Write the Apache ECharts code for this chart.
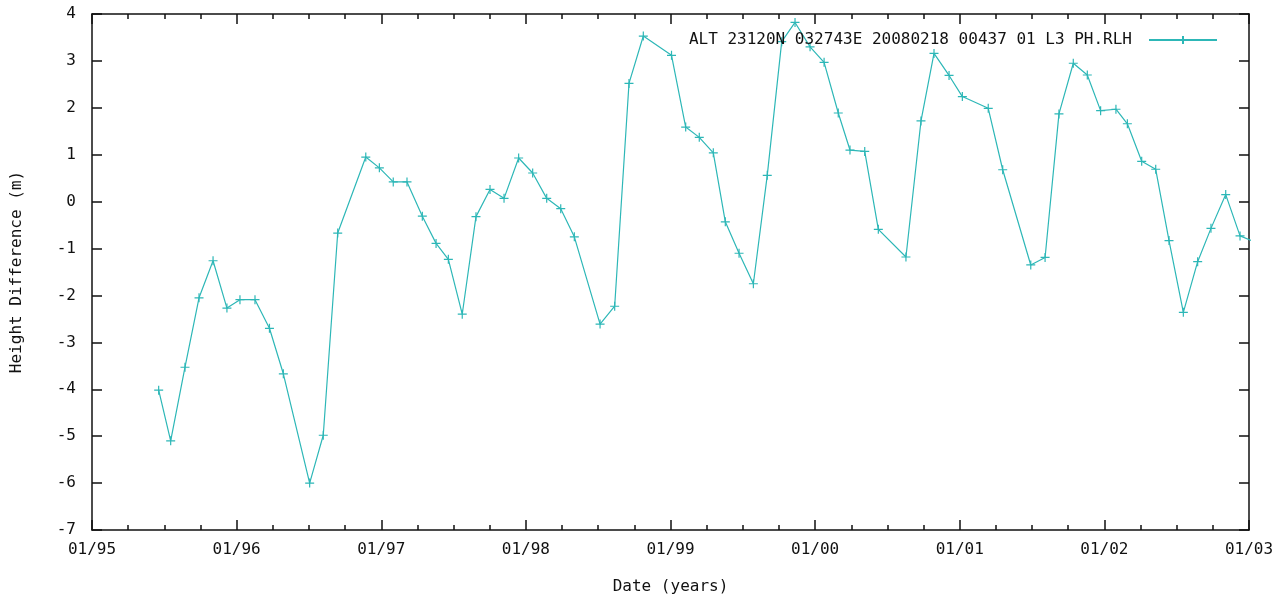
<!DOCTYPE html>
<html>
<head>
<meta charset="utf-8">
<script src="https://cdn.jsdelivr.net/npm/echarts@6/dist/echarts.min.js"></script>
<style>
  html, body { margin: 0; padding: 0; background: #fff; }
  #chart { width: 1285px; height: 600px; }
</style>
</head>
<body>
<div id="chart"></div>
<script>
// decimal years of each pass (35-day repeat)
const years = [
  1995.461, 1995.544, 1995.643, 1995.740, 1995.837, 1995.933, 1996.023, 1996.127,
  1996.227, 1996.323, 1996.505, 1996.599, 1996.699, 1996.893, 1996.987, 1997.083,
  1997.178, 1997.284, 1997.379, 1997.464, 1997.560, 1997.655, 1997.752, 1997.849,
  1997.950, 1998.047, 1998.144, 1998.241, 1998.335, 1998.513, 1998.614, 1998.713,
  1998.812, 1999.007, 1999.105, 1999.199, 1999.296, 1999.379, 1999.474, 1999.573,
  1999.669, 1999.769, 1999.861, 1999.965, 2000.062, 2000.160, 2000.241, 2000.343,
  2000.437, 2000.628, 2000.732, 2000.822, 2000.926, 2001.018, 2001.197, 2001.297,
  2001.491, 2001.590, 2001.686, 2001.785, 2001.882, 2001.974, 2002.080, 2002.159,
  2002.258, 2002.355, 2002.447, 2002.546, 2002.645, 2002.737, 2002.839, 2002.938,
  2003.035
];
// height difference (m)
const heights = [
  -4.02, -5.10, -3.53, -2.05, -1.26, -2.27, -2.09, -2.09,
  -2.70, -3.67, -6.00, -4.98, -0.67, 0.95, 0.72, 0.42,
  0.42, -0.31, -0.89, -1.23, -2.40, -0.32, 0.26, 0.07,
  0.93, 0.61, 0.07, -0.15, -0.75, -2.61, -2.23, 2.52,
  3.53, 3.12, 1.59, 1.37, 1.04, -0.43, -1.10, -1.75,
  0.56, 3.41, 3.82, 3.30, 2.97, 1.89, 1.10, 1.07,
  -0.59, -1.18, 1.72, 3.16, 2.69, 2.24, 1.99, 0.68,
  -1.35, -1.19, 1.87, 2.95, 2.70, 1.94, 1.97, 1.66,
  0.86, 0.69, -0.83, -2.36, -1.28, -0.57, 0.15, -0.73,
  -0.85
];
const xTickLabels = ["01/95", "01/96", "01/97", "01/98", "01/99", "01/00", "01/01", "01/02", "01/03"];
const seriesName = "ALT 23120N 032743E 20080218 00437 01 L3 PH.RLH";

const teal = "#2db7b7";
const font = "DejaVu Sans Mono";
const plus = "path://M0,5L10,5M5,0L5,10";

const chart = echarts.init(document.getElementById("chart"));

const xBase = {
  type: "value",
  min: 1995,
  max: 2003,
  interval: 1,
  axisLine: { onZero: false, lineStyle: { color: "#111", width: 1.5 } },
  axisTick: { inside: true, length: 10, lineStyle: { color: "#111", width: 1.5 } },
  minorTick: { show: true, splitNumber: 4, length: 5, lineStyle: { color: "#111", width: 1.5 } },
  splitLine: { show: false }
};
const yBase = {
  type: "value",
  min: -7,
  max: 4,
  interval: 1,
  axisLine: { show: true, onZero: false, lineStyle: { color: "#111", width: 1.5 } },
  axisTick: { show: true, inside: true, length: 10, lineStyle: { color: "#111", width: 1.5 } },
  splitLine: { show: false }
};

const option = {
  animation: false,
  backgroundColor: "#fff",
  grid: { left: 92, right: 36, top: 14, bottom: 60 },
  legend: {
    data: [seriesName],
    right: 62,
    top: 27,
    align: "right",
    itemWidth: 68,
    itemHeight: 10,
    textStyle: { fontFamily: font, fontSize: 16, color: "#111", padding: [0, 12, 0, 0] }
  },
  xAxis: [
    Object.assign({}, xBase, {
      position: "bottom",
      name: "Date (years)",
      nameLocation: "middle",
      nameGap: 49,
      nameTextStyle: { fontFamily: font, fontSize: 16, color: "#111" },
      axisLabel: {
        margin: 12,
        fontFamily: font,
        fontSize: 16,
        color: "#111",
        formatter: v => xTickLabels[Math.round(v - 1995)]
      }
    }),
    Object.assign({}, xBase, { position: "top", axisLabel: { show: false } })
  ],
  yAxis: [
    Object.assign({}, yBase, {
      position: "left",
      name: "Height Difference (m)",
      nameLocation: "middle",
      nameGap: 67,
      nameTextStyle: { fontFamily: font, fontSize: 16, color: "#111" },
      axisLabel: { margin: 16, fontFamily: font, fontSize: 16, color: "#111" }
    }),
    Object.assign({}, yBase, { position: "right", axisLabel: { show: false } })
  ],
  series: [
    {
      name: seriesName,
      type: "line",
      xAxisIndex: 0,
      yAxisIndex: 0,
      data: years.map((y, i) => [y, heights[i]]),
      symbol: plus,
      symbolSize: 9,
      showSymbol: true,
      clip: true,
      lineStyle: { color: teal, width: 1.2 },
      itemStyle: { color: teal, borderColor: teal, borderWidth: 1.2 },
      emphasis: { disabled: true }
    }
  ]
};
chart.setOption(option);
</script>
</body>
</html>
